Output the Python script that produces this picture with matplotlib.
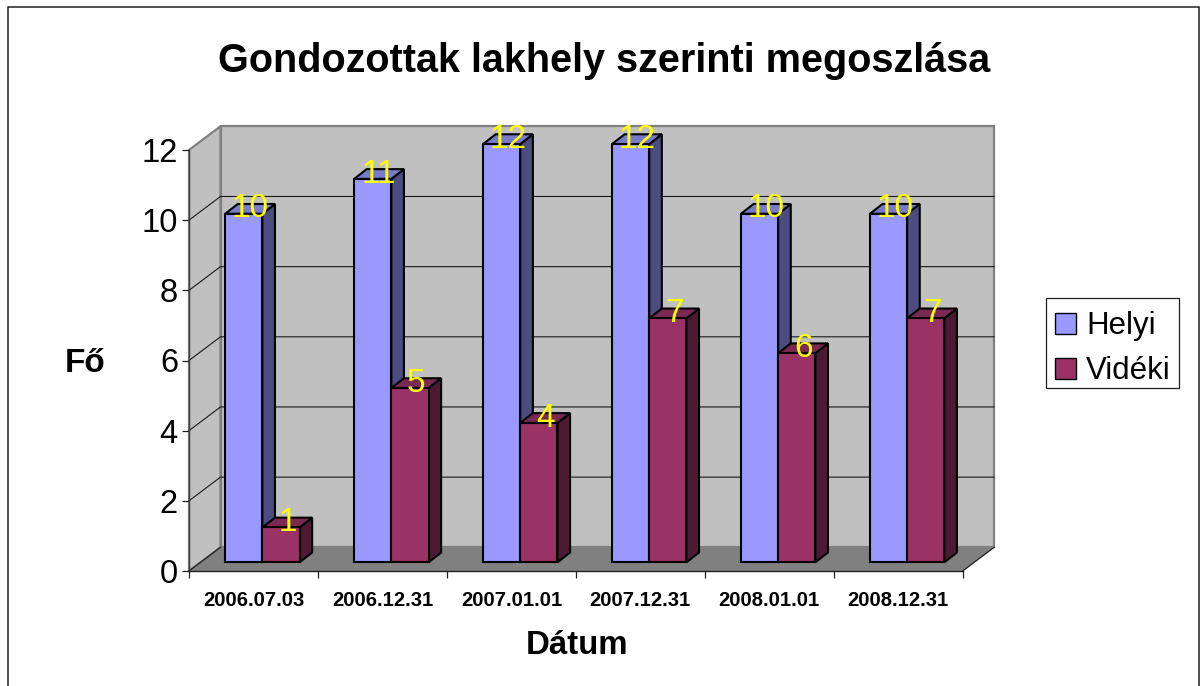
import matplotlib
matplotlib.use('Agg')
import matplotlib.pyplot as plt
from matplotlib.patches import Patch, Rectangle

plt.rcParams['font.family'] = ['Liberation Sans', 'DejaVu Sans']

dates = ['2006.07.03', '2006.12.31', '2007.01.01', '2007.12.31', '2008.01.01', '2008.12.31']
helyi = [10, 11, 12, 12, 10, 10]
videki = [1, 5, 4, 7, 6, 7]
y_ticks = [0, 2, 4, 6, 8, 10, 12]

W, H = 1200, 686
# front plane of the fake 3D box, in pixels
LEFT, RIGHT, BOTTOM, TOP = 189, 962.7, 571, 150
PX_X = (RIGHT - LEFT) / len(dates)
PX_Y = (BOTTOM - TOP) / 12

# depth offsets, converted from pixels to data units
wall_dx, wall_dy = 31.5 / PX_X, 23.7 / PX_Y
bar_dx, bar_dy = 12.6 / PX_X, 9.8 / PX_Y
off_x, off_y = 8.9 / PX_X, 8.7 / PX_Y
bar_w = 37.2 / PX_X
bar_scale = 0.9934  # bars stand a bit deeper than the axis


def fx(px):
    return px / W


def fy(py):
    return 1 - py / H


fig = plt.figure(figsize=(12, 6.86), dpi=100, facecolor='white')
ax = fig.add_axes([fx(LEFT), fy(BOTTOM), (RIGHT - LEFT) / W, (BOTTOM - TOP) / H])
ax.set_xlim(0, len(dates))
ax.set_ylim(0, 12)
ax.patch.set_visible(False)

# outer frame
fig.add_artist(Rectangle((fx(8), fy(700)), (1199 - 8) / W, (700 - 7.5) / H,
                         transform=fig.transFigure, fill=False, edgecolor='#202020', linewidth=1.1))

n = len(dates)
wall_c = '#C0C0C0'
wall_edge = '#808080'
# side wall, back wall and floor
ax.fill([0, wall_dx, wall_dx, 0], [0, wall_dy, 12 + wall_dy, 12], facecolor=wall_c,
        edgecolor=wall_edge, linewidth=1.6, clip_on=False, zorder=0.2)
ax.fill([wall_dx, n + wall_dx, n + wall_dx, wall_dx], [wall_dy, wall_dy, 12 + wall_dy, 12 + wall_dy],
        facecolor=wall_c, edgecolor=wall_edge, linewidth=1.6, clip_on=False, zorder=0.2)
ax.fill([0, n, n + wall_dx, wall_dx], [0, 0, wall_dy, wall_dy], facecolor='#808080',
        edgecolor='none', clip_on=False, zorder=0.3)
ax.plot([0, wall_dx], [0, wall_dy], color='#202020', lw=0.9, clip_on=False, zorder=0.4)
ax.plot([n, n + wall_dx], [0, wall_dy], color='#202020', lw=0.9, clip_on=False, zorder=0.4)

for t in y_ticks[1:-1]:
    ax.plot([0, wall_dx, n + wall_dx], [t, t + wall_dy, t + wall_dy], color='#1a1a1a', lw=0.8,
            clip_on=False, zorder=0.5)


def draw_bar(x, val, front, side, top):
    h = val * bar_scale
    y0 = off_y
    y1 = off_y + h
    ax.fill([x + bar_w, x + bar_w + bar_dx, x + bar_w + bar_dx, x + bar_w],
            [y0, y0 + bar_dy, y1 + bar_dy, y1], facecolor=side, edgecolor='black', linewidth=1.5,
            clip_on=False, zorder=3)
    ax.fill([x, x + bar_dx, x + bar_w + bar_dx, x + bar_w], [y1, y1 + bar_dy, y1 + bar_dy, y1],
            facecolor=top, edgecolor='black', linewidth=1.5, clip_on=False, zorder=3)
    ax.bar(x, h, bar_w, bottom=y0, align='edge', color=front, edgecolor='black', linewidth=1.5,
           clip_on=False, zorder=3)
    # value label, centred over the bar including its depth
    ax.annotate(str(val), (x + bar_w / 2 + bar_dx / 2, y1), xytext=(0, 3.5), textcoords='offset points',
                ha='center', va='center', color='#FFFF00', fontsize=24, zorder=6, annotation_clip=False)


for i in range(n):
    mid = i + 0.5 + off_x
    draw_bar(mid - bar_w, helyi[i], '#9999FF', '#4C4C80', '#7A7ACC')
    draw_bar(mid, videki[i], '#993366', '#4D1A33', '#7A2952')

# axes
for s in ['top', 'right']:
    ax.spines[s].set_visible(False)
ax.spines['left'].set_color('#404040')
ax.spines['bottom'].set_color('#202020')
ax.spines['left'].set_linewidth(1.0)
ax.spines['bottom'].set_linewidth(1.0)
ax.set_yticks(y_ticks)
ax.tick_params(axis='y', labelsize=23.5, length=5, width=0.9, pad=3, color='#202020')
ax.set_xticks(range(n + 1))
ax.set_xticklabels([])
ax.set_xticks([i + 0.5 for i in range(n)], minor=True)
ax.set_xticklabels(dates, minor=True, fontsize=14.6, fontweight='bold')
ax.tick_params(axis='x', which='major', length=5, width=0.9, color='#202020')
ax.tick_params(axis='x', which='minor', length=0, pad=14.5)

fig.text(fx(604), fy(61), 'Gondozottak lakhely szerinti megoszlása', ha='center', va='center',
         fontsize=28.5, fontweight='bold')
fig.text(fx(577), fy(645), 'Dátum', ha='center', va='center', fontsize=23.8, fontweight='bold')
fig.text(fx(85), fy(363), 'Fő', ha='center', va='center', fontsize=24, fontweight='bold')

# legend frame is separate so the entries can sit a little low in the box, as in the original
fig.add_artist(Rectangle((fx(1046), fy(388.3)), (1178.7 - 1046) / W, (388.3 - 297.5) / H,
                         transform=fig.transFigure, facecolor='white', edgecolor='#202020',
                         linewidth=0.9, zorder=4))
handles = [Patch(facecolor='#9999FF', edgecolor='black', linewidth=1.0, label='Helyi'),
           Patch(facecolor='#993366', edgecolor='black', linewidth=1.0, label='Vidéki')]
leg = fig.legend(handles=handles, loc='upper left', bbox_to_anchor=(fx(1046), fy(302)),
                 bbox_transform=fig.transFigure, fontsize=22.5, frameon=False, borderaxespad=0,
                 borderpad=0.3, handlelength=0.66, handleheight=0.66, handletextpad=0.33, labelspacing=0.48)
leg.set_zorder(5)

fig.savefig('out.png', dpi=100)
plt.close()
